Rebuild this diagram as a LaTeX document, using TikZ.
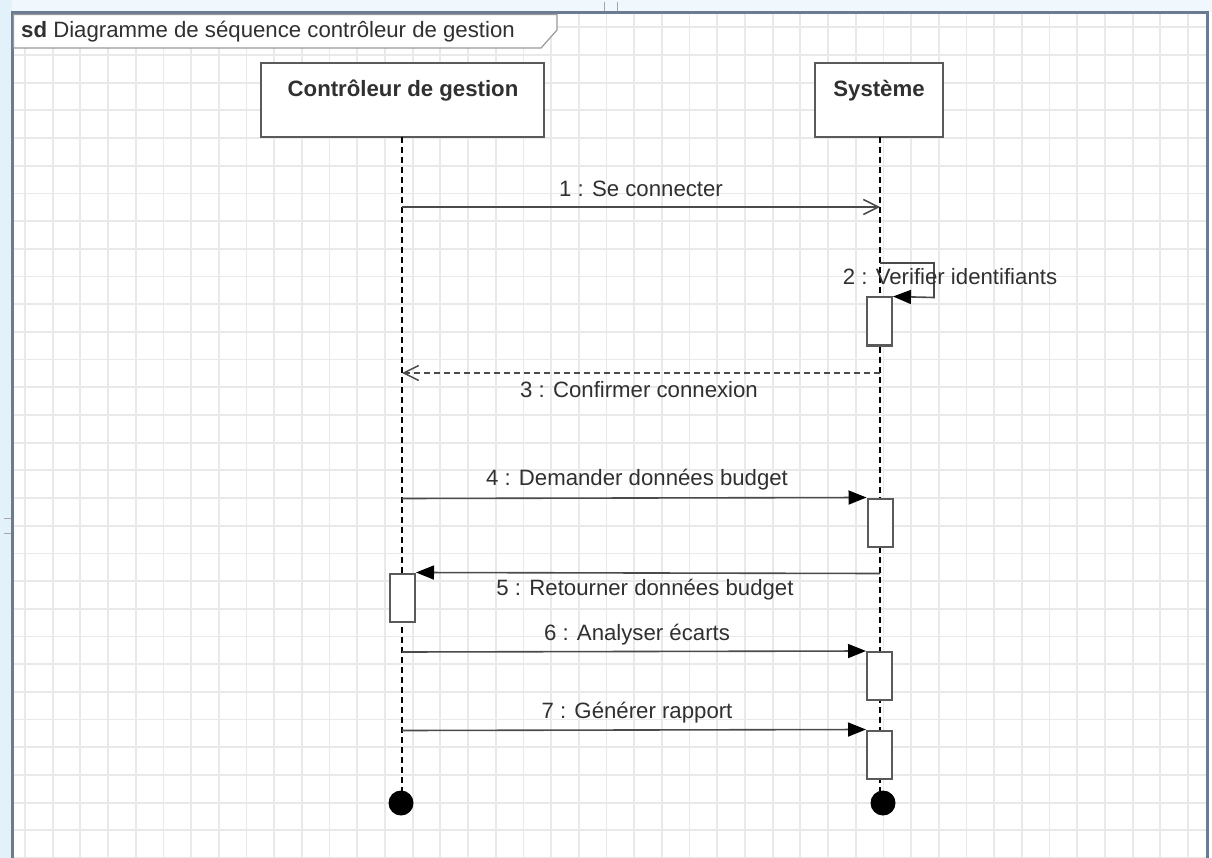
\documentclass[tikz,border=0pt]{standalone}
\usepackage{fontspec}
\setmainfont{Liberation Sans}
\usetikzlibrary{arrows.meta}
\definecolor{gridcol}{HTML}{E9E9E9}
\definecolor{framecol}{HTML}{6B7B92}
\definecolor{outercol}{HTML}{E3F1FB}
\definecolor{boxcol}{HTML}{5A5A5A}
\definecolor{msgcol}{HTML}{4A4A4A}
\definecolor{txtcol}{HTML}{303030}
\tikzset{
  gridline/.style={draw=gridcol, line width=1.8pt},
  headbox/.style={draw=boxcol, line width=2pt, fill=white, minimum height=74pt, inner sep=0pt},
  headtext/.style={font=\fontsize{22.2}{26}\selectfont\bfseries, text=txtcol},
  lifeline/.style={draw=black, line width=1.3pt, dash pattern=on 6pt off 4pt},
  actbox/.style={draw=boxcol, line width=2pt, fill=white, minimum width=25pt, minimum height=48pt, inner sep=0pt},
  msg/.style={draw=msgcol, line width=1.6pt},
  callmsg/.style={msg, -{Triangle[length=18pt, width=14pt, color=black, fill=black]}},
  openmsg/.style={msg, -{Straight Barb[length=15pt, width=15pt, line width=1.5pt]}},
  replymsg/.style={msg, dash pattern=on 6pt off 4pt, -{Straight Barb[length=15pt, width=15pt, line width=1.5pt]}},
  msglabel/.style={font=\fontsize{22.2}{26}\selectfont, text=txtcol, inner sep=0pt},
  endpt/.style={circle, fill=black, minimum size=25pt, inner sep=0pt}
}
\begin{document}
\begin{tikzpicture}[x=1pt, y=-1pt]
\useasboundingbox (0,0) rectangle (1212,858);
\fill[white] (0,0) rectangle (1212,858);
% canvas outside the frame
\fill[outercol] (0,0) rectangle (12,858);
\fill[outercol!50] (12,0) rectangle (1212,12);
\draw[gray!70, line width=1pt] (604,2) -- (604,12) (617,2) -- (617,12);
\draw[gray!70, line width=1pt] (4,518) -- (11,518) (4,533) -- (11,533);

% background grid (canvas units: y grows upwards here)
\begin{scope}
  \clip (12,13) rectangle (1207,858);
  \foreach \i in {0,...,43}{
    \pgfmathsetmacro{\gx}{25+27.69*\i}
    \draw[gridline] (\gx pt,0pt) -- (\gx pt,-870pt);
  }
  \foreach \j in {0,...,31}{
    \pgfmathsetmacro{\gy}{27.3+27.69*\j}
    \draw[gridline] (0pt,-\gy pt) -- (1220pt,-\gy pt);
  }
\end{scope}

% frame
\draw[framecol, line width=3pt] (12,870) -- (12,13) -- (1207,13) -- (1207,870);
\path[fill=white, draw=gray!80, line width=1.2pt] (13.5,14.5) -- (557,14.5) -- (557,30) -- (541,48) -- (13.5,48) -- cycle;
\node[msglabel, anchor=west] (title) at (21,32) {{\bfseries sd} Diagramme de séquence contrôleur de gestion};

% participants
\node[headbox, minimum width=283pt] (ctrl) at (402,100) {};
\node[headbox, minimum width=128pt] (sys) at (879,100) {};
\node[headtext] (ctrlname) at (403,91) {Contrôleur de gestion};
\node[headtext] (sysname) at (879,91) {Système};

% ends of the lifelines
\node[endpt] (endA) at (401,803) {};
\node[endpt] (endB) at (883,803) {};

% lifelines
\coordinate (lA) at (402,137);
\coordinate (lB) at (880,137);
\coordinate (lAend) at (402,791);
\coordinate (lBend) at (880,791);
\draw[lifeline] (lA) -- (lAend);
\draw[lifeline] (lB) -- (lBend);

% activations
\node[actbox] (act2) at (879.5,321.5) {};
\node[actbox] (act4) at (880,522.5) {};
\node[actbox] (act5) at (402.5,597.5) {};
\node[actbox] (act6) at (879.5,676) {};
\node[actbox] (act7) at (879.5,754.5) {};

% message anchors on the lifelines
\coordinate (m1a) at (402,207);
\coordinate (m1b) at (880,207);
\coordinate (m2a) at (880,263);
\coordinate (m3a) at (880,373);
\coordinate (m3b) at (402,373);
\coordinate (m4a) at (402,498.5);
\coordinate (m5a) at (880,573.5);
\coordinate (m6a) at (402,652);
\coordinate (m7a) at (402,730.5);

% messages
\draw[openmsg] (m1a) -- (m1b);
\draw[callmsg] (m2a) -- ++(54,0) -- ++(0,34.5) -- (act2.north east);
\draw[replymsg] (m3a) -- (m3b);
\draw[callmsg] (m4a) -- (act4.north west);
\draw[callmsg] (m5a) -- (act5.north east);
\draw[callmsg] (m6a) -- (act6.north west);
\draw[callmsg] (m7a) -- (act7.north west);

% message labels
\node[msglabel] (t1) at (641,189) {1 : Se connecter};
\node[msglabel] (t2) at (950,277) {2 : Verifier identifiants};
\node[msglabel] (t3) at (639,390) {3 : Confirmer connexion};
\node[msglabel] (t4) at (637,480) {4 : Demander données budget};
\node[msglabel] (t5) at (645,590) {5 : Retourner données budget};
\node[msglabel] (t6) at (637,635) {6 : Analyser écarts};
\node[msglabel] (t7) at (637,713) {7 : Générer rapport};
\end{tikzpicture}
\end{document}
